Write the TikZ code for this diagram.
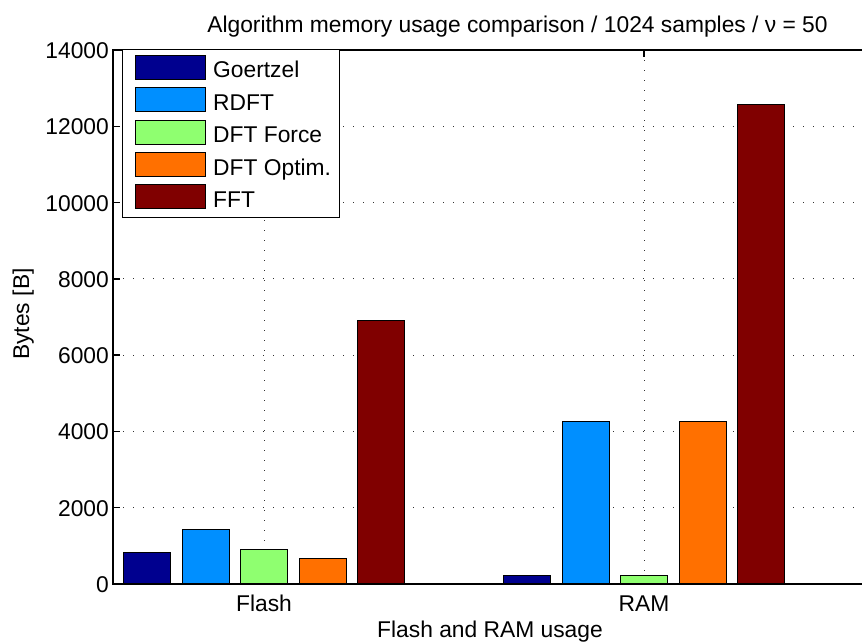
\documentclass[tikz,border=0pt]{standalone}
\usepackage{fontspec}
\setmainfont{Liberation Sans}
\definecolor{cgoe}{RGB}{0,0,143}
\definecolor{crdft}{RGB}{0,143,255}
\definecolor{cforce}{RGB}{143,255,112}
\definecolor{coptim}{RGB}{255,112,0}
\definecolor{cfft}{RGB}{128,0,0}
\begin{document}
\begin{tikzpicture}[x=1pt,y=-1pt,
  lbl/.style={inner sep=0pt, font=\fontsize{22.8}{27}\selectfont},
  gridline/.style={black!80, line width=1pt, dash pattern=on 1pt off 9pt},
  barbox/.style={draw=black, line width=1pt},
  axisline/.style={black, line width=1.3pt},
  patch/.style={draw=black, line width=1pt, minimum width=70pt, minimum height=24pt, inner sep=0pt}]
\useasboundingbox (0,0) rectangle (862,643);
% grid
\foreach \yy in {507.7,431.4,355.1,278.9,202.6,126.3}
  \draw[gridline] (113,\yy) -- (862,\yy);
\draw[gridline] (264,50) -- (264,584);
\draw[gridline] (644,50) -- (644,584);
% bottom ticks (behind bars)
\draw[axisline] (264,584) -- (264,577);
\draw[axisline] (644,584) -- (644,577);
% Flash bars
\filldraw[barbox, fill=cgoe]   (123.5,584) rectangle (170.5,552.7);
\filldraw[barbox, fill=crdft]  (182,584) rectangle (229,529.0);
\filldraw[barbox, fill=cforce] (240.5,584) rectangle (287.5,549.7);
\filldraw[barbox, fill=coptim] (299,584) rectangle (346,558.3);
\filldraw[barbox, fill=cfft]   (357.5,584) rectangle (404.5,320.0);
% RAM bars
\filldraw[barbox, fill=cgoe]   (503.5,584) rectangle (550.5,575.7);
\filldraw[barbox, fill=crdft]  (562,584) rectangle (609,421.0);
\filldraw[barbox, fill=cforce] (620.5,584) rectangle (667.5,575.7);
\filldraw[barbox, fill=coptim] (679,584) rectangle (726,421.0);
\filldraw[barbox, fill=cfft]   (737.5,584) rectangle (784.5,104.0);
% axes
\draw[axisline] (862,50) -- (113,50) -- (113,584) -- (862,584);
\foreach \yy in {507.7,431.4,355.1,278.9,202.6,126.3}
  \draw[axisline] (113,\yy) -- (120,\yy);
\draw[axisline] (264,50) -- (264,57);
\draw[axisline] (644,50) -- (644,57);
% y tick labels
\node[lbl, anchor=base east] (t0)  at (109,592.5) {0};
\node[lbl, anchor=base east] (t1)  at (109,516.2) {2000};
\node[lbl, anchor=base east] (t2)  at (109,439.9) {4000};
\node[lbl, anchor=base east] (t3)  at (109,363.6) {6000};
\node[lbl, anchor=base east] (t4)  at (109,287.4) {8000};
\node[lbl, anchor=base east] (t5)  at (109,211.1) {10000};
\node[lbl, anchor=base east] (t6)  at (109,134.8) {12000};
\node[lbl, anchor=base east] (t7)  at (109,58.5) {14000};
% x tick labels
\node[lbl, anchor=base] (xf) at (264,611.7) {Flash};
\node[lbl, anchor=base] (xr) at (644,611.7) {RAM};
% axis labels and title
\node[lbl, anchor=base] (xlab) at (490,637.5) {Flash and RAM usage};
\node[lbl, anchor=base, rotate=90] (ylab) at (29,314) {Bytes [B]};
\node[lbl, anchor=base] (title) at (517.5,32) {Algorithm memory usage comparison / 1024 samples / ν = 50};
% legend
\node[draw=black, fill=white, line width=1pt, minimum width=217pt, minimum height=168pt, inner sep=0pt, anchor=north west] (legend) at (122,49) {};
\node[patch, fill=cgoe]   (p1) at (170,67.3) {};
\node[patch, fill=crdft]  (p2) at (170,99.7) {};
\node[patch, fill=cforce] (p3) at (170,132.1) {};
\node[patch, fill=coptim] (p4) at (170,164.5) {};
\node[patch, fill=cfft]   (p5) at (170,196.9) {};
\node[lbl, anchor=base west] (l1) at (213,77.8) {Goertzel};
\node[lbl, anchor=base west] (l2) at (213,110.2) {RDFT};
\node[lbl, anchor=base west] (l3) at (213,142.6) {DFT Force};
\node[lbl, anchor=base west] (l4) at (213,175.0) {DFT Optim.};
\node[lbl, anchor=base west] (l5) at (213,207.4) {FFT};
\end{tikzpicture}
\end{document}
